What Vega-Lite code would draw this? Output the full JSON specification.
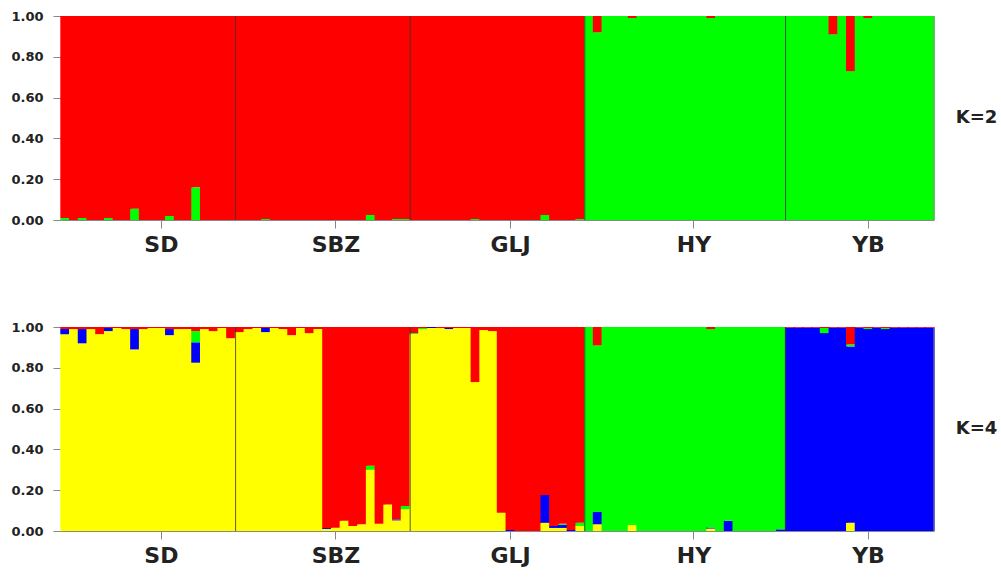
{
  "$schema": "https://vega.github.io/schema/vega-lite/v6.json",
  "background": "white",
  "padding": {"left": 10, "top": 10, "right": 2, "bottom": 2},
  "spacing": 66,
  "config": {
    "view": {"stroke": null},
    "font": "DejaVu Sans",
    "axis": {"grid": false, "labelFont": "DejaVu Sans", "labelFontWeight": "bold", "labelColor": "#222", "tickColor": "#888", "domainColor": "#888", "tickSize": 8}
  },
  "datasets": {
    "k2": [
      {"id": "SD-00", "c3": 0.01, "c4": 0.99},
      {"id": "SD-01", "c3": 0, "c4": 1},
      {"id": "SD-02", "c3": 0.01, "c4": 0.99},
      {"id": "SD-03", "c3": 0, "c4": 1},
      {"id": "SD-04", "c3": 0, "c4": 1},
      {"id": "SD-05", "c3": 0.01, "c4": 0.99},
      {"id": "SD-06", "c3": 0, "c4": 1},
      {"id": "SD-07", "c3": 0, "c4": 1},
      {"id": "SD-08", "c3": 0.055, "c4": 0.945},
      {"id": "SD-09", "c3": 0, "c4": 1},
      {"id": "SD-10", "c3": 0, "c4": 1},
      {"id": "SD-11", "c3": 0, "c4": 1},
      {"id": "SD-12", "c3": 0.02, "c4": 0.98},
      {"id": "SD-13", "c3": 0, "c4": 1},
      {"id": "SD-14", "c3": 0, "c4": 1},
      {"id": "SD-15", "c3": 0.16, "c4": 0.84},
      {"id": "SD-16", "c3": 0, "c4": 1},
      {"id": "SD-17", "c3": 0, "c4": 1},
      {"id": "SD-18", "c3": 0, "c4": 1},
      {"id": "SD-19", "c3": 0, "c4": 1},
      {"id": "SBZ-00", "c3": 0, "c4": 1},
      {"id": "SBZ-01", "c3": 0, "c4": 1},
      {"id": "SBZ-02", "c3": 0, "c4": 1},
      {"id": "SBZ-03", "c3": 0.005, "c4": 0.995},
      {"id": "SBZ-04", "c3": 0, "c4": 1},
      {"id": "SBZ-05", "c3": 0, "c4": 1},
      {"id": "SBZ-06", "c3": 0, "c4": 1},
      {"id": "SBZ-07", "c3": 0, "c4": 1},
      {"id": "SBZ-08", "c3": 0, "c4": 1},
      {"id": "SBZ-09", "c3": 0, "c4": 1},
      {"id": "SBZ-10", "c3": 0, "c4": 1},
      {"id": "SBZ-11", "c3": 0, "c4": 1},
      {"id": "SBZ-12", "c3": 0, "c4": 1},
      {"id": "SBZ-13", "c3": 0, "c4": 1},
      {"id": "SBZ-14", "c3": 0, "c4": 1},
      {"id": "SBZ-15", "c3": 0.025, "c4": 0.975},
      {"id": "SBZ-16", "c3": 0, "c4": 1},
      {"id": "SBZ-17", "c3": 0, "c4": 1},
      {"id": "SBZ-18", "c3": 0.005, "c4": 0.995},
      {"id": "SBZ-19", "c3": 0.005, "c4": 0.995},
      {"id": "GLJ-00", "c3": 0, "c4": 1},
      {"id": "GLJ-01", "c3": 0, "c4": 1},
      {"id": "GLJ-02", "c3": 0, "c4": 1},
      {"id": "GLJ-03", "c3": 0, "c4": 1},
      {"id": "GLJ-04", "c3": 0, "c4": 1},
      {"id": "GLJ-05", "c3": 0, "c4": 1},
      {"id": "GLJ-06", "c3": 0, "c4": 1},
      {"id": "GLJ-07", "c3": 0.005, "c4": 0.995},
      {"id": "GLJ-08", "c3": 0, "c4": 1},
      {"id": "GLJ-09", "c3": 0, "c4": 1},
      {"id": "GLJ-10", "c3": 0, "c4": 1},
      {"id": "GLJ-11", "c3": 0, "c4": 1},
      {"id": "GLJ-12", "c3": 0, "c4": 1},
      {"id": "GLJ-13", "c3": 0, "c4": 1},
      {"id": "GLJ-14", "c3": 0, "c4": 1},
      {"id": "GLJ-15", "c3": 0.025, "c4": 0.975},
      {"id": "GLJ-16", "c3": 0, "c4": 1},
      {"id": "GLJ-17", "c3": 0, "c4": 1},
      {"id": "GLJ-18", "c3": 0, "c4": 1},
      {"id": "GLJ-19", "c3": 0.005, "c4": 0.995},
      {"id": "HY-00", "c3": 1, "c4": 0},
      {"id": "HY-01", "c3": 0.92, "c4": 0.08},
      {"id": "HY-02", "c3": 1, "c4": 0},
      {"id": "HY-03", "c3": 1, "c4": 0},
      {"id": "HY-04", "c3": 1, "c4": 0},
      {"id": "HY-05", "c3": 0.99, "c4": 0.01},
      {"id": "HY-06", "c3": 1, "c4": 0},
      {"id": "HY-07", "c3": 1, "c4": 0},
      {"id": "HY-08", "c3": 1, "c4": 0},
      {"id": "HY-09", "c3": 1, "c4": 0},
      {"id": "HY-10", "c3": 1, "c4": 0},
      {"id": "HY-11", "c3": 1, "c4": 0},
      {"id": "HY-12", "c3": 1, "c4": 0},
      {"id": "HY-13", "c3": 1, "c4": 0},
      {"id": "HY-14", "c3": 0.99, "c4": 0.01},
      {"id": "HY-15", "c3": 1, "c4": 0},
      {"id": "HY-16", "c3": 1, "c4": 0},
      {"id": "HY-17", "c3": 1, "c4": 0},
      {"id": "HY-18", "c3": 1, "c4": 0},
      {"id": "HY-19", "c3": 1, "c4": 0},
      {"id": "HY-20", "c3": 1, "c4": 0},
      {"id": "HY-21", "c3": 1, "c4": 0},
      {"id": "HY-22", "c3": 1, "c4": 0},
      {"id": "YB-00", "c3": 1, "c4": 0},
      {"id": "YB-01", "c3": 1, "c4": 0},
      {"id": "YB-02", "c3": 1, "c4": 0},
      {"id": "YB-03", "c3": 1, "c4": 0},
      {"id": "YB-04", "c3": 1, "c4": 0},
      {"id": "YB-05", "c3": 0.91, "c4": 0.09},
      {"id": "YB-06", "c3": 1, "c4": 0},
      {"id": "YB-07", "c3": 0.73, "c4": 0.27},
      {"id": "YB-08", "c3": 1, "c4": 0},
      {"id": "YB-09", "c3": 0.99, "c4": 0.01},
      {"id": "YB-10", "c3": 1, "c4": 0},
      {"id": "YB-11", "c3": 1, "c4": 0},
      {"id": "YB-12", "c3": 1, "c4": 0},
      {"id": "YB-13", "c3": 1, "c4": 0},
      {"id": "YB-14", "c3": 1, "c4": 0},
      {"id": "YB-15", "c3": 1, "c4": 0},
      {"id": "YB-16", "c3": 1, "c4": 0}
    ],
    "k4": [
      {"id": "SD-00", "c1": 0.965, "c2": 0.025, "c3": 0, "c4": 0.01},
      {"id": "SD-01", "c1": 0.99, "c2": 0, "c3": 0, "c4": 0.01},
      {"id": "SD-02", "c1": 0.92, "c2": 0.07, "c3": 0, "c4": 0.01},
      {"id": "SD-03", "c1": 0.99, "c2": 0, "c3": 0, "c4": 0.01},
      {"id": "SD-04", "c1": 0.965, "c2": 0, "c3": 0, "c4": 0.035},
      {"id": "SD-05", "c1": 0.98, "c2": 0.015, "c3": 0, "c4": 0.005},
      {"id": "SD-06", "c1": 0.995, "c2": 0, "c3": 0, "c4": 0.005},
      {"id": "SD-07", "c1": 0.99, "c2": 0, "c3": 0, "c4": 0.01},
      {"id": "SD-08", "c1": 0.89, "c2": 0.1, "c3": 0, "c4": 0.01},
      {"id": "SD-09", "c1": 0.99, "c2": 0, "c3": 0, "c4": 0.01},
      {"id": "SD-10", "c1": 0.995, "c2": 0, "c3": 0, "c4": 0.005},
      {"id": "SD-11", "c1": 0.995, "c2": 0, "c3": 0, "c4": 0.005},
      {"id": "SD-12", "c1": 0.96, "c2": 0.03, "c3": 0, "c4": 0.01},
      {"id": "SD-13", "c1": 0.99, "c2": 0, "c3": 0, "c4": 0.01},
      {"id": "SD-14", "c1": 0.99, "c2": 0, "c3": 0, "c4": 0.01},
      {"id": "SD-15", "c1": 0.825, "c2": 0.1, "c3": 0.055, "c4": 0.02},
      {"id": "SD-16", "c1": 0.99, "c2": 0, "c3": 0, "c4": 0.01},
      {"id": "SD-17", "c1": 0.98, "c2": 0, "c3": 0, "c4": 0.02},
      {"id": "SD-18", "c1": 0.995, "c2": 0, "c3": 0, "c4": 0.005},
      {"id": "SD-19", "c1": 0.945, "c2": 0, "c3": 0, "c4": 0.055},
      {"id": "SBZ-00", "c1": 0.975, "c2": 0, "c3": 0, "c4": 0.025},
      {"id": "SBZ-01", "c1": 0.99, "c2": 0, "c3": 0, "c4": 0.01},
      {"id": "SBZ-02", "c1": 0.995, "c2": 0, "c3": 0, "c4": 0.005},
      {"id": "SBZ-03", "c1": 0.975, "c2": 0.02, "c3": 0, "c4": 0.005},
      {"id": "SBZ-04", "c1": 0.995, "c2": 0, "c3": 0, "c4": 0.005},
      {"id": "SBZ-05", "c1": 0.99, "c2": 0, "c3": 0, "c4": 0.01},
      {"id": "SBZ-06", "c1": 0.96, "c2": 0, "c3": 0, "c4": 0.04},
      {"id": "SBZ-07", "c1": 0.995, "c2": 0, "c3": 0, "c4": 0.005},
      {"id": "SBZ-08", "c1": 0.97, "c2": 0, "c3": 0, "c4": 0.03},
      {"id": "SBZ-09", "c1": 0.99, "c2": 0, "c3": 0, "c4": 0.01},
      {"id": "SBZ-10", "c1": 0.01, "c2": 0.005, "c3": 0, "c4": 0.985},
      {"id": "SBZ-11", "c1": 0.016, "c2": 0, "c3": 0, "c4": 0.984},
      {"id": "SBZ-12", "c1": 0.05, "c2": 0, "c3": 0, "c4": 0.95},
      {"id": "SBZ-13", "c1": 0.025, "c2": 0, "c3": 0, "c4": 0.975},
      {"id": "SBZ-14", "c1": 0.033, "c2": 0, "c3": 0, "c4": 0.967},
      {"id": "SBZ-15", "c1": 0.3, "c2": 0, "c3": 0.02, "c4": 0.68},
      {"id": "SBZ-16", "c1": 0.035, "c2": 0, "c3": 0, "c4": 0.965},
      {"id": "SBZ-17", "c1": 0.13, "c2": 0, "c3": 0, "c4": 0.87},
      {"id": "SBZ-18", "c1": 0.052, "c2": 0.005, "c3": 0, "c4": 0.943},
      {"id": "SBZ-19", "c1": 0.107, "c2": 0, "c3": 0.016, "c4": 0.877},
      {"id": "GLJ-00", "c1": 0.965, "c2": 0, "c3": 0.005, "c4": 0.03},
      {"id": "GLJ-01", "c1": 0.99, "c2": 0, "c3": 0.005, "c4": 0.005},
      {"id": "GLJ-02", "c1": 0.995, "c2": 0.005, "c3": 0, "c4": 0},
      {"id": "GLJ-03", "c1": 0.995, "c2": 0, "c3": 0, "c4": 0.005},
      {"id": "GLJ-04", "c1": 0.99, "c2": 0.005, "c3": 0, "c4": 0.005},
      {"id": "GLJ-05", "c1": 0.995, "c2": 0, "c3": 0, "c4": 0.005},
      {"id": "GLJ-06", "c1": 0.995, "c2": 0, "c3": 0, "c4": 0.005},
      {"id": "GLJ-07", "c1": 0.73, "c2": 0, "c3": 0, "c4": 0.27},
      {"id": "GLJ-08", "c1": 0.985, "c2": 0, "c3": 0, "c4": 0.015},
      {"id": "GLJ-09", "c1": 0.98, "c2": 0, "c3": 0, "c4": 0.02},
      {"id": "GLJ-10", "c1": 0.09, "c2": 0, "c3": 0, "c4": 0.91},
      {"id": "GLJ-11", "c1": 0, "c2": 0.005, "c3": 0, "c4": 0.995},
      {"id": "GLJ-12", "c1": 0, "c2": 0, "c3": 0, "c4": 1},
      {"id": "GLJ-13", "c1": 0, "c2": 0, "c3": 0, "c4": 1},
      {"id": "GLJ-14", "c1": 0, "c2": 0, "c3": 0, "c4": 1},
      {"id": "GLJ-15", "c1": 0.04, "c2": 0.137, "c3": 0, "c4": 0.823},
      {"id": "GLJ-16", "c1": 0.015, "c2": 0.01, "c3": 0, "c4": 0.975},
      {"id": "GLJ-17", "c1": 0.015, "c2": 0.015, "c3": 0.005, "c4": 0.965},
      {"id": "GLJ-18", "c1": 0, "c2": 0.005, "c3": 0, "c4": 0.995},
      {"id": "GLJ-19", "c1": 0.025, "c2": 0, "c3": 0.015, "c4": 0.96},
      {"id": "HY-00", "c1": 0, "c2": 0, "c3": 1, "c4": 0},
      {"id": "HY-01", "c1": 0.033, "c2": 0.06, "c3": 0.817, "c4": 0.09},
      {"id": "HY-02", "c1": 0, "c2": 0, "c3": 1, "c4": 0},
      {"id": "HY-03", "c1": 0, "c2": 0, "c3": 1, "c4": 0},
      {"id": "HY-04", "c1": 0, "c2": 0, "c3": 1, "c4": 0},
      {"id": "HY-05", "c1": 0.03, "c2": 0, "c3": 0.97, "c4": 0},
      {"id": "HY-06", "c1": 0, "c2": 0, "c3": 1, "c4": 0},
      {"id": "HY-07", "c1": 0, "c2": 0, "c3": 1, "c4": 0},
      {"id": "HY-08", "c1": 0, "c2": 0, "c3": 1, "c4": 0},
      {"id": "HY-09", "c1": 0, "c2": 0, "c3": 1, "c4": 0},
      {"id": "HY-10", "c1": 0, "c2": 0, "c3": 1, "c4": 0},
      {"id": "HY-11", "c1": 0, "c2": 0, "c3": 1, "c4": 0},
      {"id": "HY-12", "c1": 0, "c2": 0, "c3": 1, "c4": 0},
      {"id": "HY-13", "c1": 0, "c2": 0, "c3": 1, "c4": 0},
      {"id": "HY-14", "c1": 0.012, "c2": 0.005, "c3": 0.973, "c4": 0.01},
      {"id": "HY-15", "c1": 0, "c2": 0, "c3": 1, "c4": 0},
      {"id": "HY-16", "c1": 0, "c2": 0.05, "c3": 0.95, "c4": 0},
      {"id": "HY-17", "c1": 0, "c2": 0, "c3": 1, "c4": 0},
      {"id": "HY-18", "c1": 0, "c2": 0, "c3": 1, "c4": 0},
      {"id": "HY-19", "c1": 0, "c2": 0, "c3": 1, "c4": 0},
      {"id": "HY-20", "c1": 0, "c2": 0, "c3": 1, "c4": 0},
      {"id": "HY-21", "c1": 0, "c2": 0, "c3": 1, "c4": 0},
      {"id": "HY-22", "c1": 0, "c2": 0.008, "c3": 0.992, "c4": 0},
      {"id": "YB-00", "c1": 0, "c2": 0.997, "c3": 0, "c4": 0.003},
      {"id": "YB-01", "c1": 0, "c2": 0.997, "c3": 0, "c4": 0.003},
      {"id": "YB-02", "c1": 0, "c2": 0.997, "c3": 0, "c4": 0.003},
      {"id": "YB-03", "c1": 0, "c2": 0.997, "c3": 0, "c4": 0.003},
      {"id": "YB-04", "c1": 0, "c2": 0.97, "c3": 0.025, "c4": 0.005},
      {"id": "YB-05", "c1": 0, "c2": 0.997, "c3": 0, "c4": 0.003},
      {"id": "YB-06", "c1": 0, "c2": 0.997, "c3": 0, "c4": 0.003},
      {"id": "YB-07", "c1": 0.04, "c2": 0.865, "c3": 0.01, "c4": 0.085},
      {"id": "YB-08", "c1": 0, "c2": 0.997, "c3": 0, "c4": 0.003},
      {"id": "YB-09", "c1": 0, "c2": 0.99, "c3": 0.005, "c4": 0.005},
      {"id": "YB-10", "c1": 0, "c2": 0.997, "c3": 0, "c4": 0.003},
      {"id": "YB-11", "c1": 0, "c2": 0.99, "c3": 0.005, "c4": 0.005},
      {"id": "YB-12", "c1": 0, "c2": 0.997, "c3": 0, "c4": 0.003},
      {"id": "YB-13", "c1": 0, "c2": 0.997, "c3": 0, "c4": 0.003},
      {"id": "YB-14", "c1": 0, "c2": 0.997, "c3": 0, "c4": 0.003},
      {"id": "YB-15", "c1": 0, "c2": 0.997, "c3": 0, "c4": 0.003},
      {"id": "YB-16", "c1": 0, "c2": 0.997, "c3": 0, "c4": 0.003}
    ]
  },
  "vconcat": [
    {
      "width": 873,
      "height": 204,
      "data": {"name": "k2"},
      "title": {"text": "K=2", "orient": "right", "angle": 0, "anchor": "middle", "align": "right", "baseline": "middle", "fontSize": 18, "fontWeight": "bold", "font": "DejaVu Sans", "color": "#222", "offset": 21},
      "layer": [
        {
          "transform": [
            {"fold": ["c3", "c4"], "as": ["cluster", "q"]},
            {"filter": "datum.q > 0"}
          ],
          "mark": {"type": "bar", "width": {"band": 1.16}},
          "encoding": {
            "x": {"field": "id", "type": "nominal", "sort": null,
                  "scale": {"paddingInner": 0, "paddingOuter": 0},
                  "axis": {"values": ["SD-11", "SBZ-11", "GLJ-11", "HY-12", "YB-09"], "labelExpr": "split(datum.value, '-')[0]", "title": null, "labelAngle": 0, "labelFontSize": 22, "labelPadding": 6}},
            "y": {"field": "q", "type": "quantitative", "stack": "zero",
                  "scale": {"domain": [0, 1], "nice": false},
                  "axis": {"values": [0, 0.2, 0.4, 0.6, 0.8, 1], "format": ".2f", "title": null, "domain": false, "labelFontSize": 13, "labelPadding": 10}},
            "color": {"field": "cluster", "type": "nominal", "legend": null,
                      "scale": {"domain": ["c1", "c2", "c3", "c4"], "range": ["#ffff00", "#0000ff", "#00ff00", "#ff0000"]}},
            "order": {"field": "cluster", "sort": "ascending"}
          }
        },
        {
          "transform": [{"filter": "test(/-00$/, datum.id) && datum.id != 'SD-00'"}],
          "mark": {"type": "rule", "color": "#333", "strokeWidth": 1, "opacity": 0.8},
          "encoding": {"x": {"field": "id", "type": "nominal", "sort": null, "bandPosition": 0}}
        },
        {
          "transform": [{"filter": "datum.id == 'YB-16'"}],
          "mark": {"type": "rule", "color": "#888", "strokeWidth": 1},
          "encoding": {"x": {"field": "id", "type": "nominal", "sort": null, "bandPosition": 1}}
        }
      ]
    },
    {
      "width": 873,
      "height": 204,
      "data": {"name": "k4"},
      "title": {"text": "K=4", "orient": "right", "angle": 0, "anchor": "middle", "align": "right", "baseline": "middle", "fontSize": 18, "fontWeight": "bold", "font": "DejaVu Sans", "color": "#222", "offset": 21},
      "layer": [
        {
          "transform": [
            {"fold": ["c1", "c2", "c3", "c4"], "as": ["cluster", "q"]},
            {"filter": "datum.q > 0"}
          ],
          "mark": {"type": "bar", "width": {"band": 1.16}},
          "encoding": {
            "x": {"field": "id", "type": "nominal", "sort": null,
                  "scale": {"paddingInner": 0, "paddingOuter": 0},
                  "axis": {"values": ["SD-11", "SBZ-11", "GLJ-11", "HY-12", "YB-09"], "labelExpr": "split(datum.value, '-')[0]", "title": null, "labelAngle": 0, "labelFontSize": 22, "labelPadding": 6}},
            "y": {"field": "q", "type": "quantitative", "stack": "zero",
                  "scale": {"domain": [0, 1], "nice": false},
                  "axis": {"values": [0, 0.2, 0.4, 0.6, 0.8, 1], "format": ".2f", "title": null, "domain": false, "labelFontSize": 13, "labelPadding": 10}},
            "color": {"field": "cluster", "type": "nominal", "legend": null,
                      "scale": {"domain": ["c1", "c2", "c3", "c4"], "range": ["#ffff00", "#0000ff", "#00ff00", "#ff0000"]}},
            "order": {"field": "cluster", "sort": "ascending"}
          }
        },
        {
          "transform": [{"filter": "test(/-00$/, datum.id) && datum.id != 'SD-00'"}],
          "mark": {"type": "rule", "color": "#333", "strokeWidth": 1, "opacity": 0.8},
          "encoding": {"x": {"field": "id", "type": "nominal", "sort": null, "bandPosition": 0}}
        },
        {
          "transform": [{"filter": "datum.id == 'YB-16'"}],
          "mark": {"type": "rule", "color": "#888", "strokeWidth": 1},
          "encoding": {"x": {"field": "id", "type": "nominal", "sort": null, "bandPosition": 1}}
        }
      ]
    }
  ]
}
